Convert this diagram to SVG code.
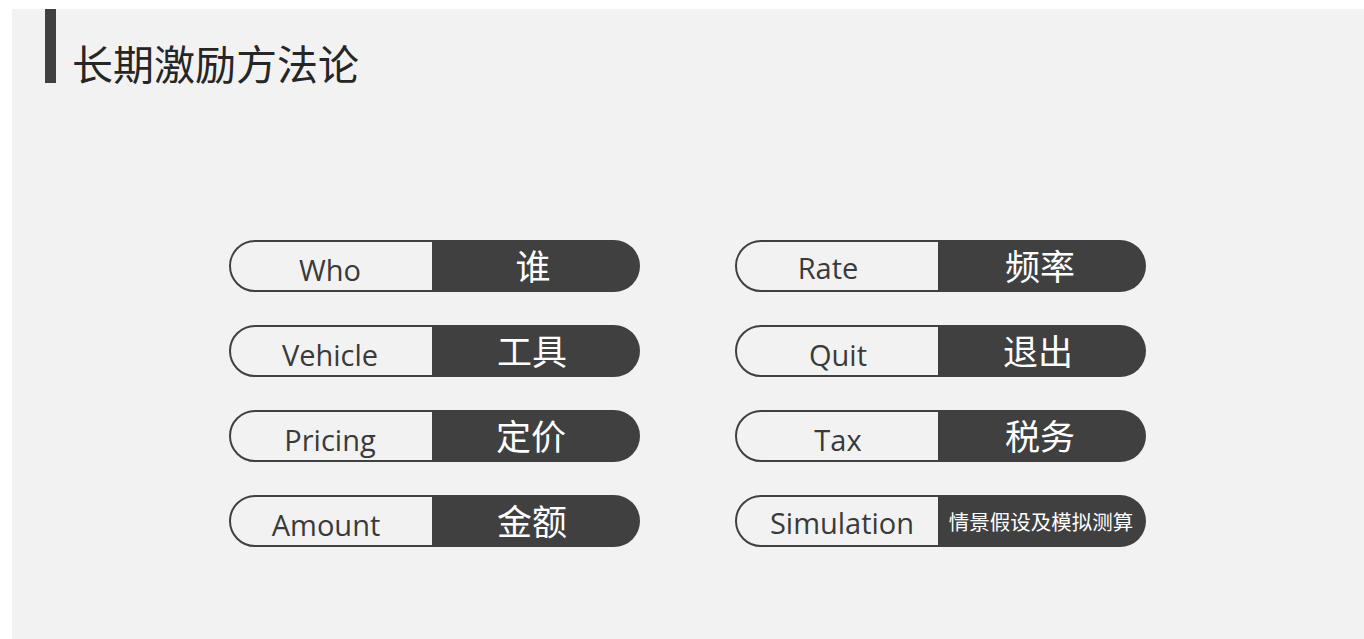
<svg xmlns="http://www.w3.org/2000/svg" width="1364" height="639" viewBox="0 0 1364 639">
<style>
.en{font-family:"Open Sans","Noto Sans","Liberation Sans",sans-serif;font-size:29px;fill:#3a3a3a;text-anchor:middle}
.cn{font-family:"Noto Sans CJK SC","Noto Sans",sans-serif;font-size:35px;fill:#ffffff;text-anchor:middle}
.cns{font-family:"Noto Sans CJK SC","Noto Sans",sans-serif;font-size:20.5px;fill:#ffffff;text-anchor:middle}
.outline{fill:#f2f2f2;stroke:#404040;stroke-width:2}
.dark{fill:#404040}
</style>
<defs>
<g id="pill">
<path class="outline" d="M204,1 H26 A25,25 0 0 0 26,51 H204 Z"/>
<path class="dark" d="M203,0 H385 A26,26 0 0 1 385,52 H203 Z"/>
</g>
</defs>
<rect x="0" y="0" width="1364" height="639" fill="#ffffff"/>
<rect x="12" y="9" width="1352" height="630" fill="#f2f2f2"/>
<g id="title">
<rect x="45" y="9" width="11" height="74" fill="#404040"/>
<text x="72" y="80" font-family="Noto Sans CJK SC,sans-serif" font-size="41" fill="#262626">长期激励方法论</text>
</g>
<g id="who"><use href="#pill" x="229" y="240"/><text class="en" x="330" y="281">Who</text><text class="cn" x="533" y="280">谁</text></g>
<g id="vehicle"><use href="#pill" x="229" y="325"/><text class="en" x="330" y="366">Vehicle</text><text class="cn" x="532" y="365">工具</text></g>
<g id="pricing"><use href="#pill" x="229" y="410"/><text class="en" x="330" y="451">Pricing</text><text class="cn" x="531" y="450">定价</text></g>
<g id="amount"><use href="#pill" x="229" y="495"/><text class="en" x="326" y="536">Amount</text><text class="cn" x="532" y="535">金额</text></g>
<g id="rate"><use href="#pill" x="735" y="240"/><text class="en" x="828" y="279">Rate</text><text class="cn" x="1040" y="280">频率</text></g>
<g id="quit"><use href="#pill" x="735" y="325"/><text class="en" x="838" y="366">Quit</text><text class="cn" x="1038" y="365">退出</text></g>
<g id="tax"><use href="#pill" x="735" y="410"/><text class="en" x="838" y="451">Tax</text><text class="cn" x="1040" y="450">税务</text></g>
<g id="simulation"><use href="#pill" x="735" y="495"/><text class="en" x="842" y="534">Simulation</text><text class="cns" x="1041" y="530">情景假设及模拟测算</text></g>
</svg>
